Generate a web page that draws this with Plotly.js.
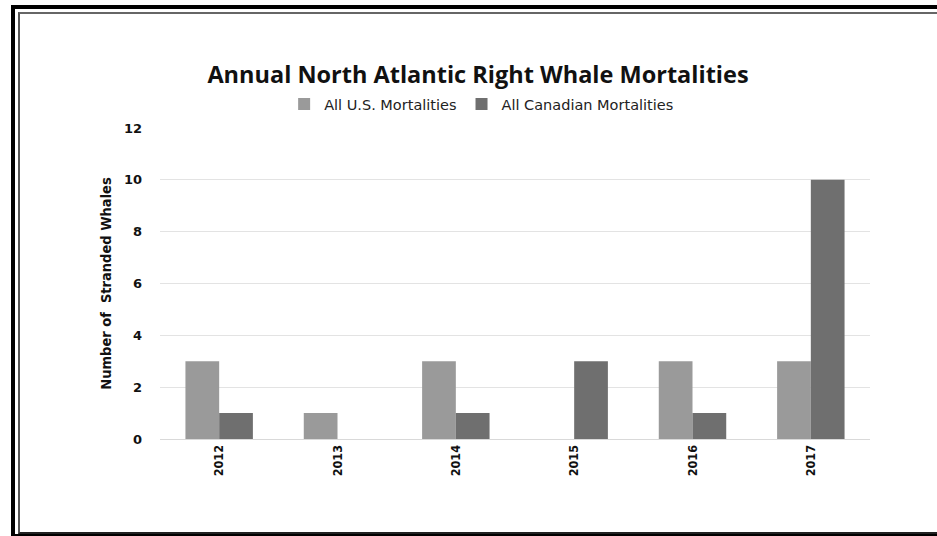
<!DOCTYPE html>
<html>
<head>
<meta charset="utf-8">
<script src="https://cdn.plot.ly/plotly-3.0.1.min.js"></script>
<style>
  html, body { margin: 0; padding: 0; background: #fff; }
  #wrap { position: relative; width: 937px; height: 536px; overflow: hidden; background: #fff; }
  #chart { position: absolute; left: 0; top: 0; width: 937px; height: 536px; }
  .frame { position: absolute; pointer-events: none; }
  #outer { left: 11px; top: 5px; width: 1000px; height: 600px; border-left: 4px solid #000; border-top: 4px solid #000; }
  #outerBottom { left: 11px; top: 534px; width: 1000px; height: 3px; background: #000; }
  #inner { left: 18px; top: 12px; width: 1000px; height: 518px; border-left: 2px solid #555; border-top: 2px solid #666; border-bottom: 2px solid #222; }
</style>
</head>
<body>
<div id="wrap">
  <div id="chart"></div>
  <div class="frame" id="outer"></div>
  <div class="frame" id="outerBottom"></div>
  <div class="frame" id="inner"></div>
</div>
<script>
// Stranded right whales per year, by country of mortality
const years = ['2012', '2013', '2014', '2015', '2016', '2017'];
const usMortalities = [3, 1, 3, 0, 3, 3];
const canadianMortalities = [1, 0, 1, 3, 1, 10];
const yTicks = [0, 2, 4, 6, 8, 10, 12];

const traces = [
  {
    type: 'bar',
    name: 'All U.S. Mortalities',
    x: years,
    y: usMortalities,
    marker: { color: '#9a9a9a', line: { width: 0 } }
  },
  {
    type: 'bar',
    name: 'All Canadian Mortalities',
    x: years,
    y: canadianMortalities,
    marker: { color: '#6f6f6f', line: { width: 0 } }
  }
];

const layout = {
  width: 937,
  height: 536,
  paper_bgcolor: '#ffffff',
  plot_bgcolor: '#ffffff',
  margin: { l: 160, r: 67, t: 128, b: 97 },
  barmode: 'group',
  bargap: 0.43,
  bargroupgap: 0,
  title: {
    text: '<b>Annual North Atlantic Right Whale Mortalities</b>',
    font: { family: 'Open Sans, Noto Sans, sans-serif', size: 23.5, color: '#111' },
    x: 478 / 937, xanchor: 'center',
    y: 1 - 75 / 536, yanchor: 'middle', yref: 'container'
  },
  showlegend: true,
  legend: {
    orientation: 'h',
    x: 0.453, xanchor: 'center',
    y: (439 - 104) / 311, yanchor: 'middle',
    font: { family: 'DejaVu Sans, sans-serif', size: 14.5, color: '#222' },
    itemwidth: 30,
    traceorder: 'normal'
  },
  xaxis: {
    type: 'category',
    tickangle: -90,
    tickfont: { family: 'DejaVu Sans Condensed, DejaVu Sans, sans-serif', size: 12.5, color: '#111', weight: 'bold' },
    showgrid: false,
    showline: true,
    linecolor: '#d9d9d9',
    linewidth: 1,
    ticks: '',
    ticklen: 0
  },
  yaxis: {
    range: [0, 12],
    tickvals: yTicks,
    ticktext: yTicks.map(String),
    tickfont: { family: 'DejaVu Sans, sans-serif', size: 13, color: '#111', weight: 'bold' },
    showgrid: true,
    gridcolor: '#e3e3e3',
    gridwidth: 1,
    zeroline: false,
    showline: false,
    ticks: '',
    ticklabelstandoff: 17,
    title: {
      text: 'Number of  Stranded Whales',
      font: { family: 'DejaVu Sans Condensed, DejaVu Sans, sans-serif', size: 14.5, color: '#111', weight: 'bold' },
      standoff: 8
    }
  }
};

Plotly.newPlot('chart', traces, layout, { displayModeBar: false, staticPlot: true });
</script>
</body>
</html>
